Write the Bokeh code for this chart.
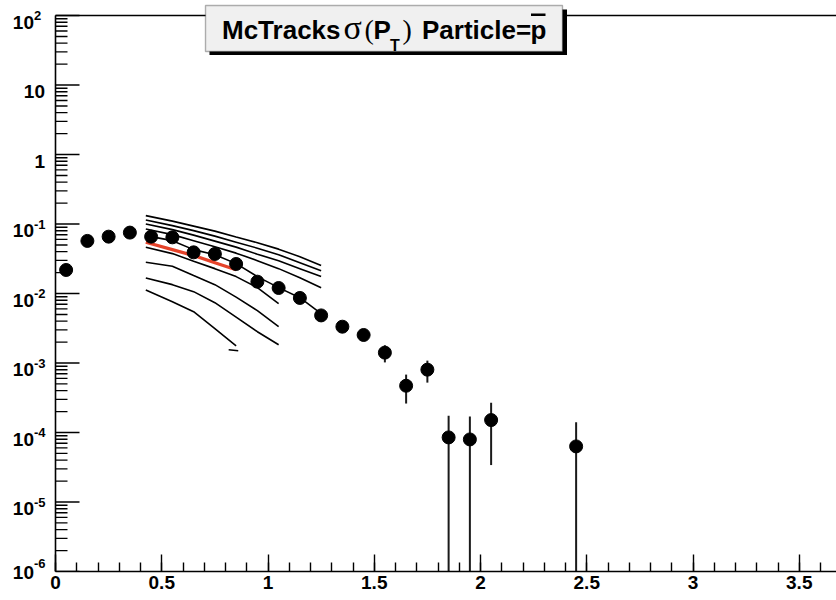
import math
from bokeh.plotting import figure
from bokeh.models import Range1d, FixedTicker, BoxAnnotation
from bokeh.core.properties import value
from bokeh.embed import file_html
from bokeh.resources import INLINE

# ---- measured pT spectrum (bin centres, yields, statistical errors) ----
pt_centers = [0.05, 0.15, 0.25, 0.35, 0.45, 0.55, 0.65, 0.75, 0.85, 0.95, 1.05,
              1.15, 1.25, 1.35, 1.45, 1.55, 1.65, 1.75, 1.85, 1.95, 2.05, 2.45]
yields = [0.0218, 0.0571, 0.0658, 0.0752, 0.0658, 0.0643, 0.0391, 0.0371, 0.0266,
          0.0148, 0.0120, 0.00863, 0.00484, 0.00333, 0.00253, 0.00141, 4.71e-4,
          8.02e-4, 8.5e-5, 7.95e-5, 1.51e-4, 6.31e-5]
errors = [0.0008, 0.0014, 0.0016, 0.0018, 0.0017, 0.0017, 0.0013, 0.0013, 0.0011,
          0.0008, 0.0007, 0.0006, 0.00045, 0.00038, 0.00033, 3.9e-4, 2.1e-4,
          2.8e-4, 8.9e-5, 9.0e-5, 1.17e-4, 7.7e-5]

# ---- reference curves sampled on a common pT grid ----
curve_x = [0.425, 0.55, 0.65, 0.75, 0.85, 0.95, 1.05, 1.15, 1.25]
curve_a = [0.1320, 0.1100, 0.0932, 0.0790, 0.0648, 0.0539, 0.0435, 0.0339, 0.0252]
curve_b = [0.1145, 0.0948, 0.0803, 0.0669, 0.0548, 0.0449, 0.0362, 0.0278, 0.0213]
curve_c = [0.1003, 0.0830, 0.0692, 0.0567, 0.0465, 0.0368, 0.0297, 0.0228, 0.0175]
curve_d = [0.0849, 0.0703, 0.0576, 0.0472, 0.0381, 0.0297, 0.0228, 0.0169, 0.01214]
curve_e = [0.0680, 0.0576, 0.0428, 0.0362, 0.0269, 0.0175, 0.01214, 0.00871, 0.00513]
curve_f = [0.0462, 0.0375, 0.0292, 0.0228, 0.0175, 0.01214, 0.00714]
curve_g = [0.0281, 0.0247, 0.0181, 0.01341, 0.00886, 0.00566, 0.00333]
curve_h = [0.01674, 0.01341, 0.01063, 0.00738, 0.00456, 0.00282, 0.00183]
curve_i = [0.01125, 0.00763, 0.00548, 0.00312, 0.00177]
black_curves = [curve_a, curve_b, curve_c, curve_d, curve_e,
                curve_f, curve_g, curve_h, curve_i]
# short trailing piece below the lowest curve
tail_x = [0.815, 0.86]
tail_y = [0.00155, 0.00150]
fit_curve = [0.0545, 0.0428, 0.0351, 0.0278, 0.0220]

# ---- axes ----
x_major = [0, 0.5, 1, 1.5, 2, 2.5, 3, 3.5]
x_labels = ["0", "0.5", "1", "1.5", "2", "2.5", "3", "3.5"]
y_decades = [2, 1, 0, -1, -2, -3, -4, -5, -6]
y_base = ["10", "10", "1", "10", "10", "10", "10", "10", "10"]
y_exp = ["2", "", "", "-1", "-2", "-3", "-4", "-5", "-6"]

W, H = 836, 600
LEFT, BOTTOM = 55, 29       # pixel position of the y axis / space under the x axis
PX_PER_X = 212.5
PX_PER_DEC = 69.46
FRAME_TOP_PX = 15           # pixel row of the 10^2 frame edge
BASELINE_FIX = 0.3          # raise text baselines by this fraction of the font size

x_start = -LEFT / PX_PER_X
x_end = (W - LEFT) / PX_PER_X
y_top = 10 ** (2 + FRAME_TOP_PX / PX_PER_DEC)

def xd(px):
    """canvas pixel column -> pT"""
    return (px - LEFT) / PX_PER_X

def yd(py):
    """canvas pixel row -> yield"""
    return 10 ** (2 - (py - FRAME_TOP_PX) / PX_PER_DEC)

def row_of(v):
    """yield -> canvas pixel row"""
    return FRAME_TOP_PX + (2 - math.log10(v)) * PX_PER_DEC

p = figure(width=W, height=H, x_range=Range1d(x_start, x_end),
           y_range=Range1d(1e-6, y_top), y_axis_type="log", y_axis_location=None,
           output_backend="svg", toolbar_location=None,
           min_border_left=0, min_border_right=0, min_border_top=0,
           min_border_bottom=BOTTOM)
p.outline_line_color = None
p.xgrid.visible = False
p.ygrid.visible = False
p.background_fill_color = "white"
p.border_fill_color = "white"

FONT = "Liberation Sans"
LW = 1.6

xa = p.xaxis[0]
xa.bounds = (0, x_end)
xa.ticker = FixedTicker(ticks=x_major,
                        minor_ticks=[round(0.1 * i, 2) for i in range(0, 37)])
xa.major_label_overrides = {t: l for t, l in zip(x_major, x_labels)}
xa.major_tick_in, xa.major_tick_out = 17, 0
xa.minor_tick_in, xa.minor_tick_out = 9, 0
xa.axis_line_width = LW
xa.major_tick_line_width = 1.4
xa.minor_tick_line_width = 1.4
xa.major_label_text_font = FONT
xa.major_label_text_font_style = "bold"
xa.major_label_text_font_size = "19px"
xa.major_label_text_color = "black"
xa.major_label_standoff = 4

# ---- log y axis drawn by hand along pT = 0 ----
major_len = 24 / PX_PER_X
minor_len = 12 / PX_PER_X
y_major = [10.0 ** d for d in y_decades]
y_minor = [m * 10.0 ** d for d in range(-6, 2) for m in range(2, 10)]
p.segment(x0=[0], y0=[1e-6], x1=[0], y1=[1e2], line_color="black", line_width=LW)
p.segment(x0=[0], y0=[1e2], x1=[x_end], y1=[1e2], line_color="black", line_width=LW)
p.segment(x0=[0] * len(y_major), y0=y_major, x1=[major_len] * len(y_major), y1=y_major,
          line_color="black", line_width=1.4)
p.segment(x0=[0] * len(y_minor), y0=y_minor, x1=[minor_len] * len(y_minor), y1=y_minor,
          line_color="black", line_width=1.4)

def put_text(px, py, txt, size_px, font=FONT, style="bold", align="left"):
    base_row = py - BASELINE_FIX * size_px
    p.text(x=[xd(px)], y=[yd(base_row)], text=[txt], text_align=align,
           text_baseline="alphabetic", text_font=value(font),
           text_font_style=style, text_font_size=f"{size_px}px",
           text_color="black", level="overlay")

for d, base, ex in zip(y_decades, y_base, y_exp):
    row = row_of(10.0 ** d)
    lift = 6 if d == -6 else 0
    if ex:
        put_text(33.5, row + 12.5 - lift, base, 19, align="right")
        put_text(33.5, row + 4 - 1.3 * lift, ex, 13)
    else:
        put_text(44.5, row + 12.5, base, 19, align="right")

# ---- model curves ----
for cy in black_curves:
    p.line(curve_x[:len(cy)], cy, line_color="black", line_width=1.6)
p.line(tail_x, tail_y, line_color="black", line_width=1.6)
p.line(curve_x[:len(fit_curve)], fit_curve, line_color="#e5432a", line_width=3.2)

# ---- data with error bars ----
lower = [y - e if y - e > 0 else 1e-9 for y, e in zip(yields, errors)]
upper = [y + e for y, e in zip(yields, errors)]
p.segment(x0=pt_centers, y0=lower, x1=pt_centers, y1=upper,
          line_color="#1a1a1a", line_width=2)
p.scatter(pt_centers, yields, size=13, marker="circle",
          fill_color="black", line_color="black")

# ---- title box with drop shadow ----
p.add_layout(BoxAnnotation(left=xd(209), right=xd(566.5), top=yd(9), bottom=yd(54.5),
                           fill_color="black", fill_alpha=1.0, line_color=None))
p.add_layout(BoxAnnotation(left=xd(205), right=xd(562), top=yd(5), bottom=yd(51),
                           fill_color="#f0f0f0", fill_alpha=1.0,
                           line_color="black", line_width=1.4))

put_text(221.5, 37, "McTracks", 26)
put_text(343, 37, "σ", 34, font="Liberation Serif", style="normal")
put_text(364, 37, "(", 28, font="Liberation Serif", style="normal")
put_text(373, 37, "P", 26)
put_text(389.5, 50, "T", 16)
put_text(402, 37, ")", 28, font="Liberation Serif", style="normal")
put_text(421.5, 37, "Particle=", 26)
put_text(530, 37, "p", 26)
p.add_layout(BoxAnnotation(left=xd(530.5), right=xd(545), top=yd(13), bottom=yd(15.5),
                           fill_color="black", fill_alpha=1.0, line_color=None,
                           level="overlay"))

open("out.html", "w").write(file_html(p, INLINE))
